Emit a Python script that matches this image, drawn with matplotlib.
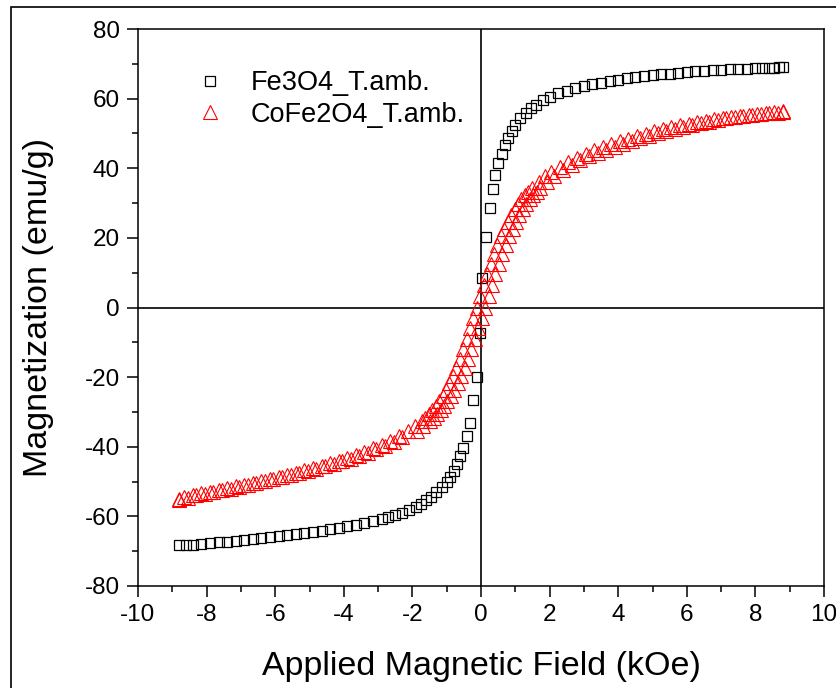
import matplotlib

matplotlib.use("Agg")
import matplotlib.pyplot as plt
from matplotlib.patches import Rectangle
from matplotlib.ticker import MultipleLocator

plt.rcParams["font.family"] = ["Liberation Sans", "DejaVu Sans"]
plt.rcParams["axes.unicode_minus"] = False

# Fe3O4 at room temperature (both branches overlap)
fe_field = [
    -8.8, -8.6, -8.4, -8.15, -7.9, -7.65, -7.4, -7.15, -6.9, -6.65, -6.4, -6.15,
    -5.9, -5.65, -5.4, -5.15, -4.9, -4.65, -4.4, -4.15, -3.9, -3.65, -3.4, -3.15,
    -2.9, -2.7, -2.5, -2.3, -2.1, -1.9, -1.75, -1.6, -1.45, -1.3, -1.15, -1.0,
    -0.9, -0.8, -0.7, -0.6, -0.52, -0.42, -0.33, -0.22, -0.13, -0.04,
    0.04, 0.16, 0.25, 0.34, 0.42, 0.51, 0.6, 0.7, 0.8, 0.9, 1.0, 1.15, 1.3,
    1.45, 1.6, 1.8, 2.0, 2.25, 2.5, 2.75, 3.0, 3.25, 3.5, 3.75, 4.0, 4.25, 4.5,
    4.75, 5.0, 5.25, 5.5, 5.75, 6.0, 6.25, 6.5, 6.75, 7.0, 7.25, 7.5, 7.75,
    8.0, 8.2, 8.4, 8.55, 8.7, 8.8,
]
fe_moment = [
    -68.3, -68.2, -68.1, -67.9, -67.7, -67.5, -67.3, -67.0, -66.8, -66.5, -66.3, -66.0,
    -65.7, -65.4, -65.1, -64.8, -64.5, -64.1, -63.7, -63.3, -62.9, -62.4, -61.9, -61.4,
    -60.8, -60.3, -59.7, -59.0, -58.2, -57.3, -56.4, -55.4, -54.3, -53.0, -51.6, -50.0,
    -48.6, -46.9, -44.9, -42.6, -40.5, -37.0, -33.3, -26.6, -20.0, -7.4,
    8.6, 20.2, 28.5, 34.0, 38.0, 41.5, 44.2, 46.6, 48.6, 50.6, 52.3, 54.3, 56.0,
    57.2, 58.3, 59.5, 60.5, 61.5, 62.3, 63.0, 63.6, 64.1, 64.6, 65.0, 65.4, 65.8, 66.1,
    66.4, 66.7, 67.0, 67.2, 67.4, 67.6, 67.8, 68.0, 68.1, 68.3, 68.4, 68.5, 68.6,
    68.7, 68.8, 68.9, 68.9, 69.0, 69.0,
]

# CoFe2O4 at room temperature, field increasing
co_up_field = [
    -8.8, -8.55, -8.3, -8.05, -7.8, -7.55, -7.3, -7.05, -6.8, -6.55, -6.3, -6.05,
    -5.8, -5.55, -5.3, -5.05, -4.8, -4.55, -4.3, -4.05, -3.8, -3.55, -3.3, -3.05,
    -2.8, -2.55, -2.3, -1.88, -1.68, -1.48, -1.38, -1.28, -1.18, -1.08, -0.98,
    -0.88, -0.78, -0.68, -0.58, -0.48, -0.38, -0.28, -0.18, -0.08, 0.02, 0.12,
    0.22, 0.32, 0.42, 0.52, 0.62, 0.72, 0.82, 0.92, 1.02, 1.12, 1.22, 1.32, 1.42,
    1.52, 1.62, 1.72, 1.92, 2.12, 2.4, 2.65, 2.9, 3.15, 3.4, 3.65, 3.9, 4.15, 4.4,
    4.65, 4.9, 5.15, 5.4, 5.65, 5.9, 6.15, 6.4, 6.65, 6.9, 7.15, 7.4, 7.65, 7.9,
    8.15, 8.4, 8.65, 8.8,
]
co_up_moment = [
    -55.3, -54.6, -54.0, -53.5, -53.0, -52.5, -52.0, -51.5, -51.0, -50.4, -49.9, -49.3,
    -48.7, -48.1, -47.5, -46.9, -46.3, -45.6, -45.0, -44.2, -43.4, -42.6, -41.7, -40.7,
    -39.7, -38.6, -37.3, -35.5, -34.1, -32.5, -31.6, -30.6, -29.5, -28.3, -27.0,
    -25.5, -23.7, -21.8, -19.7, -17.3, -14.7, -12.0, -9.0, -6.0, -3.0, 0.0,
    3.3, 6.5, 9.6, 12.5, 15.3, 18.0, 20.4, 22.5, 24.6, 26.5, 28.2, 29.8, 31.1,
    32.3, 33.3, 34.3, 36.1, 37.8, 39.5, 41.0, 42.3, 43.5, 44.4, 45.3, 46.2, 47.0, 47.8,
    48.6, 49.3, 50.0, 50.7, 51.4, 51.9, 52.5, 53.0, 53.4, 53.9, 54.3, 54.7, 55.0, 55.3,
    55.6, 55.8, 56.0, 56.2,
]

# CoFe2O4 at room temperature, field decreasing
co_down_field = [
    8.8, 8.55, 8.3, 8.05, 7.8, 7.55, 7.3, 7.05, 6.8, 6.55, 6.3, 6.05, 5.8, 5.55,
    5.3, 5.05, 4.8, 4.55, 4.3, 4.05, 3.8, 3.55, 3.3, 3.05, 2.8, 2.55, 2.3, 2.05,
    1.88, 1.68, 1.48, 1.38, 1.28, 1.18, 1.08, 0.98, 0.88, 0.78, 0.68, 0.58, 0.48,
    0.38, 0.28, 0.18, 0.08, -0.02, -0.12, -0.22, -0.32, -0.42, -0.52, -0.62, -0.72,
    -0.82, -0.92, -1.02, -1.12, -1.22, -1.32, -1.42, -1.52, -1.62, -1.72, -1.92,
    -2.12, -2.4, -2.65, -2.9, -3.15, -3.4, -3.65, -3.9, -4.15, -4.4, -4.65, -4.9,
    -5.15, -5.4, -5.65, -5.9, -6.15, -6.4, -6.65, -6.9, -7.15, -7.4, -7.65, -7.9,
    -8.15, -8.4, -8.65, -8.8,
]
co_down_moment = [
    56.4, 56.1, 55.9, 55.7, 55.4, 55.1, 54.8, 54.5, 54.1, 53.7, 53.2, 52.8, 52.3, 51.8,
    51.2, 50.6, 49.9, 49.2, 48.5, 47.7, 46.9, 46.0, 45.1, 44.1, 43.0, 41.8, 40.5, 39.0,
    37.8, 36.1, 34.3, 33.3, 32.3, 31.1, 29.8, 28.2, 26.5, 24.6, 22.5, 20.4, 18.0,
    15.3, 12.5, 9.6, 6.5, 3.3, 0.0, -3.0, -6.0, -9.0, -12.0, -14.7, -17.3,
    -19.7, -21.8, -23.7, -25.5, -27.0, -28.3, -29.5, -30.6, -31.6, -32.5, -34.1,
    -35.5, -37.0, -38.3, -39.5, -40.5, -41.5, -42.4, -43.2, -44.0, -44.8, -45.5, -46.2,
    -46.8, -47.4, -48.0, -48.6, -49.2, -49.8, -50.3, -50.9, -51.4, -51.9, -52.4, -52.9,
    -53.4, -53.9, -54.5, -55.0,
]

W, H = 836, 688
fig = plt.figure(figsize=(W / 100, H / 100), dpi=100)
ax = fig.add_axes([138 / W, 1 - 586 / H, (824 - 138) / W, (586 - 29) / H])

# outer frame of the figure panel
fig.patches.append(Rectangle((11 / W, -0.05), 1.2, 1.05 - 7 / H, transform=fig.transFigure,
                             fill=False, edgecolor="black", linewidth=1.2, clip_on=False))

ax.axhline(0, color="black", lw=1.2, zorder=1)
ax.axvline(0, color="black", lw=1.2, zorder=1)

ax.plot(fe_field, fe_moment, ls="none", marker="s", ms=7.5, mfc="none", mec="black",
        mew=0.9, label="Fe3O4_T.amb.", zorder=3)
ax.plot(co_up_field, co_up_moment, ls="none", marker="^", ms=10, mfc="none", mec="#ff0000",
        mew=0.8, label="CoFe2O4_T.amb.", zorder=3)
ax.plot(co_down_field, co_down_moment, ls="none", marker="^", ms=10, mfc="none",
        mec="#ff0000", mew=0.8, zorder=3)

ax.set_xlim(-10, 10)
ax.set_ylim(-80, 80)
ax.xaxis.set_major_locator(MultipleLocator(2))
ax.xaxis.set_minor_locator(MultipleLocator(1))
ax.yaxis.set_major_locator(MultipleLocator(20))
ax.yaxis.set_minor_locator(MultipleLocator(10))
ax.tick_params(which="major", direction="out", length=8, width=1.1, labelsize=17.5, pad=5)
ax.tick_params(which="minor", direction="out", length=4.3, width=1.1)
for sp in ax.spines.values():
    sp.set_linewidth(1.1)

ax.set_xlabel("Applied Magnetic Field (kOe)", fontsize=24.5, labelpad=18)
ax.set_ylabel("Magnetization (emu/g)", fontsize=24.5, labelpad=22)

ax.legend(loc="upper left", bbox_to_anchor=(0.05, 0.945), frameon=False, fontsize=19.5,
          handletextpad=0.5, labelspacing=0.2, borderaxespad=0)

fig.savefig("out.png", dpi=100)
